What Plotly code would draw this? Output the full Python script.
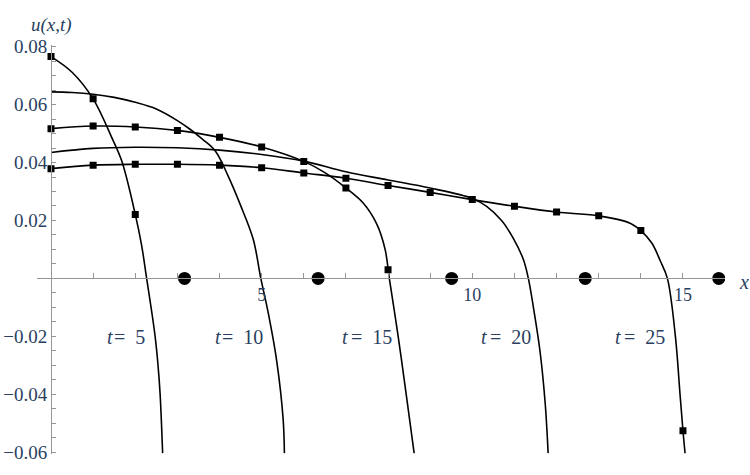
import plotly.graph_objects as go

# ---- data ----
t_values = [5, 10, 15, 20, 25]

curve_t5_x = [0, 0.5, 1, 1.44, 1.68, 2.0, 2.15, 2.27, 2.38, 2.47, 2.54, 2.59, 2.65]
curve_t5_y = [0.0766, 0.0712, 0.0620, 0.0487, 0.0405, 0.0221, 0.0115, 0.0, -0.0105, -0.0199, -0.0300, -0.0400, -0.0604]

curve_t10_x = [0, 0.5, 1, 1.5, 2, 2.5, 3, 3.3, 3.6, 3.9, 4.2, 4.5, 4.8, 4.98, 5.16, 5.36, 5.51, 5.54]
curve_t10_y = [0.0644, 0.0642, 0.0636, 0.0625, 0.0608, 0.0585, 0.0545, 0.0515, 0.0480, 0.0440, 0.0355, 0.0252, 0.0135, 0.0, -0.0122, -0.0288, -0.0487, -0.0604]

curve_t15_x = [0, 1, 2, 3, 4, 5, 6, 6.5, 7, 7.41, 7.73, 7.93, 8.03, 8.24, 8.43, 8.62]
curve_t15_y = [0.0517, 0.0526, 0.0523, 0.0511, 0.0487, 0.0454, 0.0404, 0.0365, 0.0312, 0.0260, 0.0188, 0.0100, 0.0, -0.0200, -0.0400, -0.0604]

curve_t20_x = [0, 1, 2, 3, 4, 5, 6, 7, 8, 9, 10, 10.34, 10.7, 10.97, 11.21, 11.33, 11.45, 11.61, 11.73, 11.80]
curve_t20_y = [0.0435, 0.0449, 0.0453, 0.0451, 0.0443, 0.0428, 0.0405, 0.0368, 0.0340, 0.0312, 0.0276, 0.0249, 0.0199, 0.0139, 0.0066, 0.0, -0.0100, -0.0255, -0.0432, -0.0604]

curve_t25_x = [0, 1, 2, 3, 4, 5, 6, 7, 8, 9, 10, 11, 12, 13, 13.5, 13.78, 14, 14.26, 14.46, 14.63, 14.82, 14.93, 15.0, 15.05]
curve_t25_y = [0.0379, 0.0391, 0.0394, 0.0394, 0.0391, 0.0382, 0.0364, 0.0346, 0.0321, 0.0297, 0.0272, 0.0249, 0.0229, 0.0216, 0.0202, 0.0188, 0.0165, 0.0122, 0.0061, 0.0, -0.0200, -0.0400, -0.0526, -0.0604]

sq_t5_x = [0, 1, 2]
sq_t5_y = [0.0766, 0.0620, 0.0221]
sq_t15_x = [0, 1, 2, 3, 4, 5, 6, 7, 8]
sq_t15_y = [0.0517, 0.0526, 0.0523, 0.0511, 0.0487, 0.0454, 0.0404, 0.0312, 0.0030]
sq_t25_x = [0, 1, 2, 3, 4, 5, 6, 7, 8, 9, 10, 11, 12, 13, 14, 15]
sq_t25_y = [0.0379, 0.0391, 0.0394, 0.0394, 0.0391, 0.0382, 0.0364, 0.0346, 0.0321, 0.0297, 0.0272, 0.0249, 0.0229, 0.0216, 0.0165, -0.0526]

front_x = [3.17, 6.34, 9.51, 12.68, 15.85]
front_y = [0, 0, 0, 0, 0]

# label extents (left of "t", right end of the number) in data units
label_left = [1.28, 3.85, 6.86, 10.16, 13.35]
label_right = [2.28, 5.08, 8.14, 11.44, 14.63]
label_y = -0.0203

x_tick_vals = list(range(1, 16))
x_tick_text = [str(v) if v % 5 == 0 else "" for v in x_tick_vals]
y_tick_steps = [k for k in range(-12, 17) if k != 0]
y_tick_vals = [k * 0.005 for k in y_tick_steps]
y_tick_text = [(("\u2212" if k < 0 else "") + f"{abs(k) * 0.005:.2f}") if k % 4 == 0 else "" for k in y_tick_steps]

FONT = "Times New Roman"
AXIS = "rgb(150,150,150)"

fig = go.Figure()

curves = [(curve_t5_x, curve_t5_y), (curve_t10_x, curve_t10_y), (curve_t15_x, curve_t15_y),
          (curve_t20_x, curve_t20_y), (curve_t25_x, curve_t25_y)]
for cx, cy in curves:
    fig.add_trace(go.Scatter(x=cx, y=cy, mode="lines",
                             line=dict(color="black", width=1.6, shape="spline")))

for sx, sy in [(sq_t5_x, sq_t5_y), (sq_t15_x, sq_t15_y), (sq_t25_x, sq_t25_y)]:
    fig.add_trace(go.Scatter(x=sx, y=sy, mode="markers",
                             marker=dict(symbol="square", size=7, color="black")))

fig.add_trace(go.Scatter(x=front_x, y=front_y, mode="markers",
                         marker=dict(symbol="circle", size=13, color="black")))

W, H = 750, 475
x_range = [-0.33, 16.0]
y_range = [-0.0605, 0.0805]
x_dom = [37.1 / W, 725.1 / W]
y_dom = [1 - 462.1 / H, 1 - 37.7 / H]

anns = [
    dict(text="u(x,t)", xref="paper", yref="paper", x=51 / W, y=1 - 17 / H,
         showarrow=False, xanchor="center", yanchor="middle",
         font=dict(family=FONT, size=19, style="italic")),
    dict(text="x", xref="paper", yref="paper", x=744 / W, y=1 - 284 / H,
         showarrow=False, xanchor="center", yanchor="middle",
         font=dict(family=FONT, size=20, style="italic")),
]
for t, lx, rx in zip(t_values, label_left, label_right):
    anns.append(dict(text="t", x=lx, y=label_y, xref="x", yref="y", showarrow=False,
                     xanchor="left", yanchor="middle",
                     font=dict(family=FONT, size=20, style="italic")))
    anns.append(dict(text=f"=  {t}", x=rx, y=label_y, xref="x", yref="y", showarrow=False,
                     xanchor="right", yanchor="middle",
                     font=dict(family=FONT, size=20)))

fig.update_layout(
    width=W, height=H,
    margin=dict(l=0, r=0, t=0, b=0),
    paper_bgcolor="white", plot_bgcolor="white",
    showlegend=False,
    xaxis=dict(range=x_range, domain=x_dom, anchor="free", position=1 - 280 / H,
               showgrid=False, zeroline=False, showline=True, linecolor=AXIS,
               tickmode="array", tickvals=x_tick_vals, ticktext=x_tick_text,
               ticks="inside", ticklen=5, tickcolor=AXIS,
               tickfont=dict(family=FONT, size=18)),
    yaxis=dict(range=y_range, domain=y_dom, anchor="free", position=51 / W,
               showgrid=False, zeroline=False, showline=True, linecolor=AXIS,
               tickmode="array", tickvals=y_tick_vals, ticktext=y_tick_text,
               ticks="inside", ticklen=4, tickcolor=AXIS,
               tickfont=dict(family=FONT, size=19)),
    annotations=anns,
)

fig.write_html("out.html")
